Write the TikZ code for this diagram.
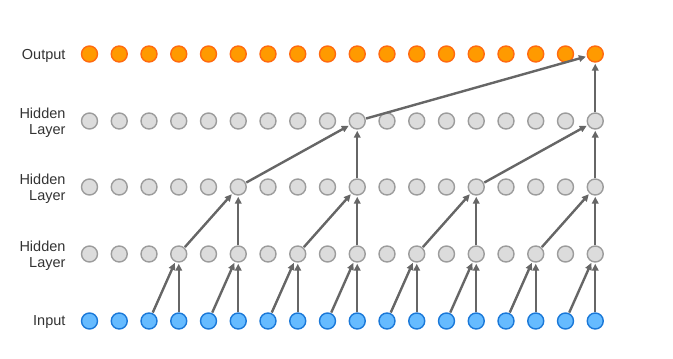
\documentclass[tikz,border=0pt]{standalone}
\usepackage{fontspec}
\setmainfont{Liberation Sans}
\usetikzlibrary{arrows.meta}
\definecolor{outfill}{HTML}{FF9A00}
\definecolor{outline}{HTML}{FF6A10}
\definecolor{hidfill}{HTML}{DCDCDC}
\definecolor{hidline}{HTML}{9C9C9C}
\definecolor{infill}{HTML}{66BBFF}
\definecolor{inline}{HTML}{1A78D8}
\definecolor{conngray}{HTML}{666666}
\definecolor{lblgray}{HTML}{333333}
\begin{document}
\begin{tikzpicture}[x=1pt,y=-1pt,
    unit/.style={circle,minimum size=16pt,inner sep=0pt,line width=1.4pt},
    outunit/.style={unit,draw=outline,fill=outfill},
    hidunit/.style={unit,draw=hidline,fill=hidfill},
    inunit/.style={unit,draw=inline,fill=infill},
    conn/.style={draw=conngray,line width=2.4pt,shorten >=1pt,shorten <=0.5pt,
        -{Triangle[length=7pt,width=6.5pt]}},
    lbl/.style={anchor=east,align=right,text=lblgray,font=\fontsize{14.5}{16}\selectfont}]
\useasboundingbox (0,0) rectangle (673,359);
% units, one column at a time
\foreach \j in {0,...,17} {
    \node[outunit] (out-\j) at (89.5+29.75*\j,54) {};
    \node[hidunit] (hc-\j) at (89.5+29.75*\j,121) {};
    \node[hidunit] (hb-\j) at (89.5+29.75*\j,187) {};
    \node[hidunit] (ha-\j) at (89.5+29.75*\j,254) {};
    \node[inunit] (in-\j) at (89.5+29.75*\j,321) {};
}
% row labels
\node[lbl] (lout) at (69,55.5) {Output};
\node[lbl] (lhc) at (69,123) {Hidden\\Layer};
\node[lbl] (lhb) at (69,189) {Hidden\\Layer};
\node[lbl] (lha) at (69,256) {Hidden\\Layer};
\node[lbl] (lin) at (69,322.5) {Input};
% dilation 1, 2, 4, 8
\foreach \j in {3,5,...,17} {
    \pgfmathtruncatemacro\k{\j-1}
    \draw[conn] (in-\k) -- (ha-\j);
    \draw[conn] (in-\j) -- (ha-\j);
}
\foreach \j in {5,9,13,17} {
    \pgfmathtruncatemacro\k{\j-2}
    \draw[conn] (ha-\k) -- (hb-\j);
    \draw[conn] (ha-\j) -- (hb-\j);
}
\foreach \j in {9,17} {
    \pgfmathtruncatemacro\k{\j-4}
    \draw[conn] (hb-\k) -- (hc-\j);
    \draw[conn] (hb-\j) -- (hc-\j);
}
\draw[conn] (hc-9) -- (out-17);
\draw[conn] (hc-17) -- (out-17);
\end{tikzpicture}
\end{document}
